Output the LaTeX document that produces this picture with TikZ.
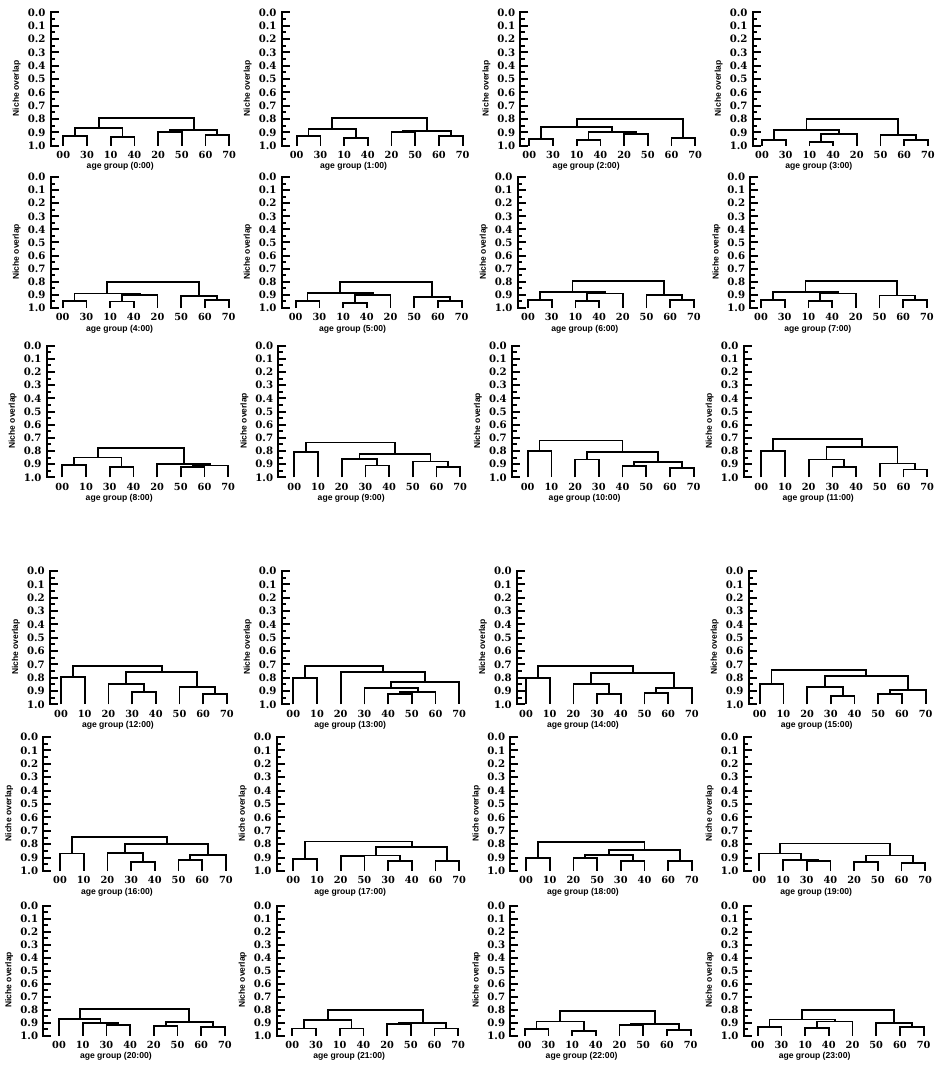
\documentclass[tikz,border=0pt]{standalone}
\usepackage{fontspec}
\newfontfamily\numfont{DejaVu Serif}
\newfontfamily\labsans{Liberation Sans}
\tikzset{
  axisline/.style={line width=2pt},
  treeline/.style={line width=1.8pt},
  ticklab/.style={font=\numfont\bfseries\fontsize{10.2}{10}\selectfont, anchor=east, inner sep=0pt},
  leaflab/.style={font=\numfont\bfseries\fontsize{9.8}{10}\selectfont, anchor=north, inner sep=0pt},
  ylab/.style={font=\labsans\bfseries\fontsize{8.5}{8.5}\selectfont, rotate=90, inner sep=0pt},
  ttl/.style={font=\labsans\bfseries\fontsize{8.6}{9}\selectfont, inner sep=0pt},
}
\newcommand\dbr[5]{\draw[treeline] (#1,#2) |- (#3,#5) -- (#3,#4);}
\newcommand\typeA[7]{\dbr{0}{1}{1}{1}{#1}\dbr{2}{1}{3}{1}{#2}\dbr{2.5}{#2}{4}{1}{#3}\dbr{.5}{#1}{3.25}{#3}{#4}\dbr{6}{1}{7}{1}{#5}\dbr{5}{1}{6.5}{#5}{#6}\dbr{1.875}{#4}{5.75}{#6}{#7}}
\newcommand\typeB[7]{\dbr{0}{1}{1}{1}{#1}\dbr{2}{1}{3}{1}{#2}\dbr{.5}{#1}{2.5}{#2}{#3}\dbr{4}{1}{5}{1}{#4}\dbr{6}{1}{7}{1}{#5}\dbr{4.5}{#4}{6.5}{#5}{#6}\dbr{1.5}{#3}{5.5}{#6}{#7}}
\newcommand\typeC[7]{\dbr{0}{1}{1}{1}{#1}\dbr{3}{1}{4}{1}{#2}\dbr{2}{1}{3.5}{#2}{#3}\dbr{6}{1}{7}{1}{#4}\dbr{5}{1}{6.5}{#4}{#5}\dbr{2.75}{#3}{5.75}{#5}{#6}\dbr{.5}{#1}{4.25}{#6}{#7}}
\newcommand\typeD[7]{\dbr{0}{1}{1}{1}{#1}\dbr{3}{1}{4}{1}{#2}\dbr{2}{1}{3.5}{#2}{#3}\dbr{5}{1}{6}{1}{#4}\dbr{5.5}{#4}{7}{1}{#5}\dbr{2.75}{#3}{6.25}{#5}{#6}\dbr{.5}{#1}{4.5}{#6}{#7}}
\newcommand\typeE[7]{\dbr{0}{1}{1}{1}{#1}\dbr{2}{1}{3}{1}{#2}\dbr{4}{1}{5}{1}{#3}\dbr{2.5}{#2}{4.5}{#3}{#4}\dbr{6}{1}{7}{1}{#5}\dbr{3.5}{#4}{6.5}{#5}{#6}\dbr{.5}{#1}{5}{#6}{#7}}
\newcommand\typeF[7]{\dbr{2}{1}{3}{1}{#1}\dbr{1}{1}{2.5}{#1}{#2}\dbr{0}{1}{1.75}{#2}{#3}\dbr{4}{1}{5}{1}{#4}\dbr{6}{1}{7}{1}{#5}\dbr{4.5}{#4}{6.5}{#5}{#6}\dbr{.875}{#3}{5.5}{#6}{#7}}
% #1 axis x, #2 top y, #3 height, #4 leaf0 x, #5 leaves, #6 time, #7 tree, #8 id
\newcommand\dpanel[8]{%
  \begin{scope}[shift={(#1pt,-#2pt)},x=1pt,y=-#3pt]
    \draw[axisline] (8,0) -- (0,0) -- (0,1) -- (8,1);
    \foreach \v in {1,...,9} \draw[axisline] (0,\v/10) -- (8,\v/10);
    \foreach \v in {0.05,0.15,...,0.96} \draw[axisline] (0,\v) -- (4.5,\v);
    \foreach \v/\l in {0/0.0,1/0.1,2/0.2,3/0.3,4/0.4,5/0.5,6/0.6,7/0.7,8/0.8,9/0.9,10/1.0}
      \node[ticklab] (#8t\v) at (-5,\v/10) {\l};
    \node[ylab] (#8y) at (-34,0.57) {Niche overlap};
  \end{scope}
  \begin{scope}[shift={(#4pt,-#2pt)},x=23.7pt,y=-#3pt]
    \foreach \t [count=\i from 0] in {#5}
      \node[leaflab,yshift=-5.5pt] (#8l\i) at (\i,1) {\t};
    \node[ttl,yshift=-21pt] (#8ttl) at (2.4,1) {age group (#6)};
    #7
  \end{scope}
}
\begin{document}
\begin{tikzpicture}[x=1pt,y=-1pt]
\fill[white] (0,0) rectangle (937,1067);
\useasboundingbox (0,0) rectangle (937,1067);
% row 1
\dpanel{50.7}{12.3}{133.4}{63.3}{00,30,10,40,20,50,60,70}{0:00}{\typeB{.925}{.935}{.87}{.895}{.92}{.885}{.795}}{pa}
\dpanel{281.7}{12.3}{133.4}{296.7}{00,30,10,40,20,50,60,70}{1:00}{\typeB{.93}{.945}{.875}{.90}{.93}{.89}{.795}}{pb}
\dpanel{520.3}{12.3}{133.4}{529.3}{00,30,10,40,20,50,60,70}{2:00}{%
  \dbr{0}{1}{1}{1}{.95}\dbr{2}{1}{3}{1}{.96}\dbr{4}{1}{5}{1}{.915}\dbr{2.5}{.96}{4.5}{.915}{.90}%
  \dbr{.5}{.95}{3.5}{.90}{.86}\dbr{6}{1}{7}{1}{.945}\dbr{2}{.86}{6.5}{.945}{.80}}{pc}
\dpanel{752.7}{12.3}{133.4}{762}{00,30,10,40,20,50,60,70}{3:00}{\typeA{.955}{.97}{.91}{.885}{.955}{.92}{.80}}{pd}
% row 2
\dpanel{50.7}{177}{131}{62.7}{00,30,10,40,20,50,60,70}{4:00}{\typeA{.945}{.95}{.90}{.89}{.94}{.91}{.80}}{pe}
\dpanel{281.7}{177}{131}{295.7}{00,30,10,40,20,50,60,70}{5:00}{\typeA{.945}{.96}{.90}{.885}{.945}{.915}{.80}}{pf}
\dpanel{517.7}{177}{131}{528}{00,30,10,40,20,50,60,70}{6:00}{\typeA{.94}{.945}{.89}{.875}{.94}{.90}{.795}}{pg}
\dpanel{750.3}{177}{131}{761}{00,30,10,40,20,50,60,70}{7:00}{\typeA{.94}{.945}{.89}{.875}{.94}{.905}{.795}}{ph}
% row 3
\dpanel{46.7}{345.7}{131.6}{62.3}{00,10,30,40,20,50,60,70}{8:00}{%
  \dbr{0}{1}{1}{1}{.905}\dbr{2}{1}{3}{1}{.92}\dbr{.5}{.905}{2.5}{.92}{.85}\dbr{5}{1}{6}{1}{.92}%
  \dbr{5.5}{.92}{7}{1}{.91}\dbr{4}{1}{6.25}{.91}{.90}\dbr{1.5}{.85}{5.125}{.90}{.78}}{pi}
\dpanel{278.3}{345.7}{131.6}{294.3}{00,10,20,30,40,50,60,70}{9:00}{\typeC{.81}{.91}{.86}{.92}{.88}{.825}{.735}}{pj}
\dpanel{512}{345.7}{131.6}{527.7}{00,10,20,30,40,50,60,70}{10:00}{%
  \dbr{0}{1}{1}{1}{.80}\dbr{2}{1}{3}{1}{.865}\dbr{4}{1}{5}{1}{.915}\dbr{6}{1}{7}{1}{.93}%
  \dbr{4.5}{.915}{6.5}{.93}{.885}\dbr{2.5}{.865}{5.5}{.885}{.805}\dbr{.5}{.80}{4}{.805}{.72}}{pk}
\dpanel{743.7}{345.7}{131.6}{761.3}{00,10,20,30,40,50,60,70}{11:00}{\typeC{.80}{.92}{.865}{.94}{.895}{.77}{.71}}{pl}
% row 4
\dpanel{50}{571}{133.3}{61}{00,10,20,30,40,50,60,70}{12:00}{\typeC{.795}{.91}{.85}{.92}{.87}{.76}{.71}}{pm}
\dpanel{281.7}{571}{133.3}{293.3}{00,10,20,30,40,50,60,70}{13:00}{%
  \dbr{0}{1}{1}{1}{.80}\dbr{4}{1}{5}{1}{.92}\dbr{4.5}{.92}{6}{1}{.91}\dbr{3}{1}{5.25}{.91}{.88}%
  \dbr{4.125}{.88}{7}{1}{.835}\dbr{2}{1}{5.5625}{.835}{.76}\dbr{.5}{.80}{3.78125}{.76}{.71}}{pn}
\dpanel{517}{571}{133.3}{526}{00,10,20,30,40,50,60,70}{14:00}{\typeD{.80}{.92}{.85}{.915}{.88}{.765}{.71}}{po}
\dpanel{748.7}{571}{133.3}{759.7}{00,10,20,30,40,50,60,70}{15:00}{\typeD{.85}{.94}{.87}{.92}{.89}{.79}{.74}}{pp}
% row 5
\dpanel{43.3}{737}{134}{60}{00,10,20,30,40,50,60,70}{16:00}{\typeD{.87}{.93}{.865}{.915}{.88}{.80}{.745}}{pq}
\dpanel{276.7}{737}{134}{293.3}{00,10,20,50,30,40,60,70}{17:00}{\typeE{.91}{.89}{.925}{.885}{.925}{.82}{.78}}{pr}
\dpanel{510.3}{737}{134}{526}{00,10,20,50,30,40,60,70}{18:00}{\typeE{.90}{.905}{.925}{.88}{.925}{.845}{.785}}{ps}
\dpanel{743.7}{737}{134}{759.3}{00,10,30,40,20,50,60,70}{19:00}{\typeF{.925}{.915}{.87}{.93}{.94}{.885}{.795}}{pt}
% row 6
\dpanel{43.3}{905.7}{130}{59}{00,10,30,40,20,50,60,70}{20:00}{\typeF{.915}{.905}{.87}{.925}{.93}{.895}{.795}}{pu}
\dpanel{276.7}{905.7}{130}{292.3}{00,30,10,40,20,50,60,70}{21:00}{\typeB{.945}{.945}{.88}{.91}{.945}{.90}{.80}}{pv}
\dpanel{510.3}{905.7}{130}{524.7}{00,30,10,40,20,50,60,70}{22:00}{\typeB{.95}{.965}{.89}{.92}{.955}{.91}{.81}}{pw}
\dpanel{743.7}{905.7}{130}{757.7}{00,30,10,40,20,50,60,70}{23:00}{\typeA{.935}{.94}{.89}{.875}{.935}{.90}{.80}}{px}
\end{tikzpicture}
\end{document}
